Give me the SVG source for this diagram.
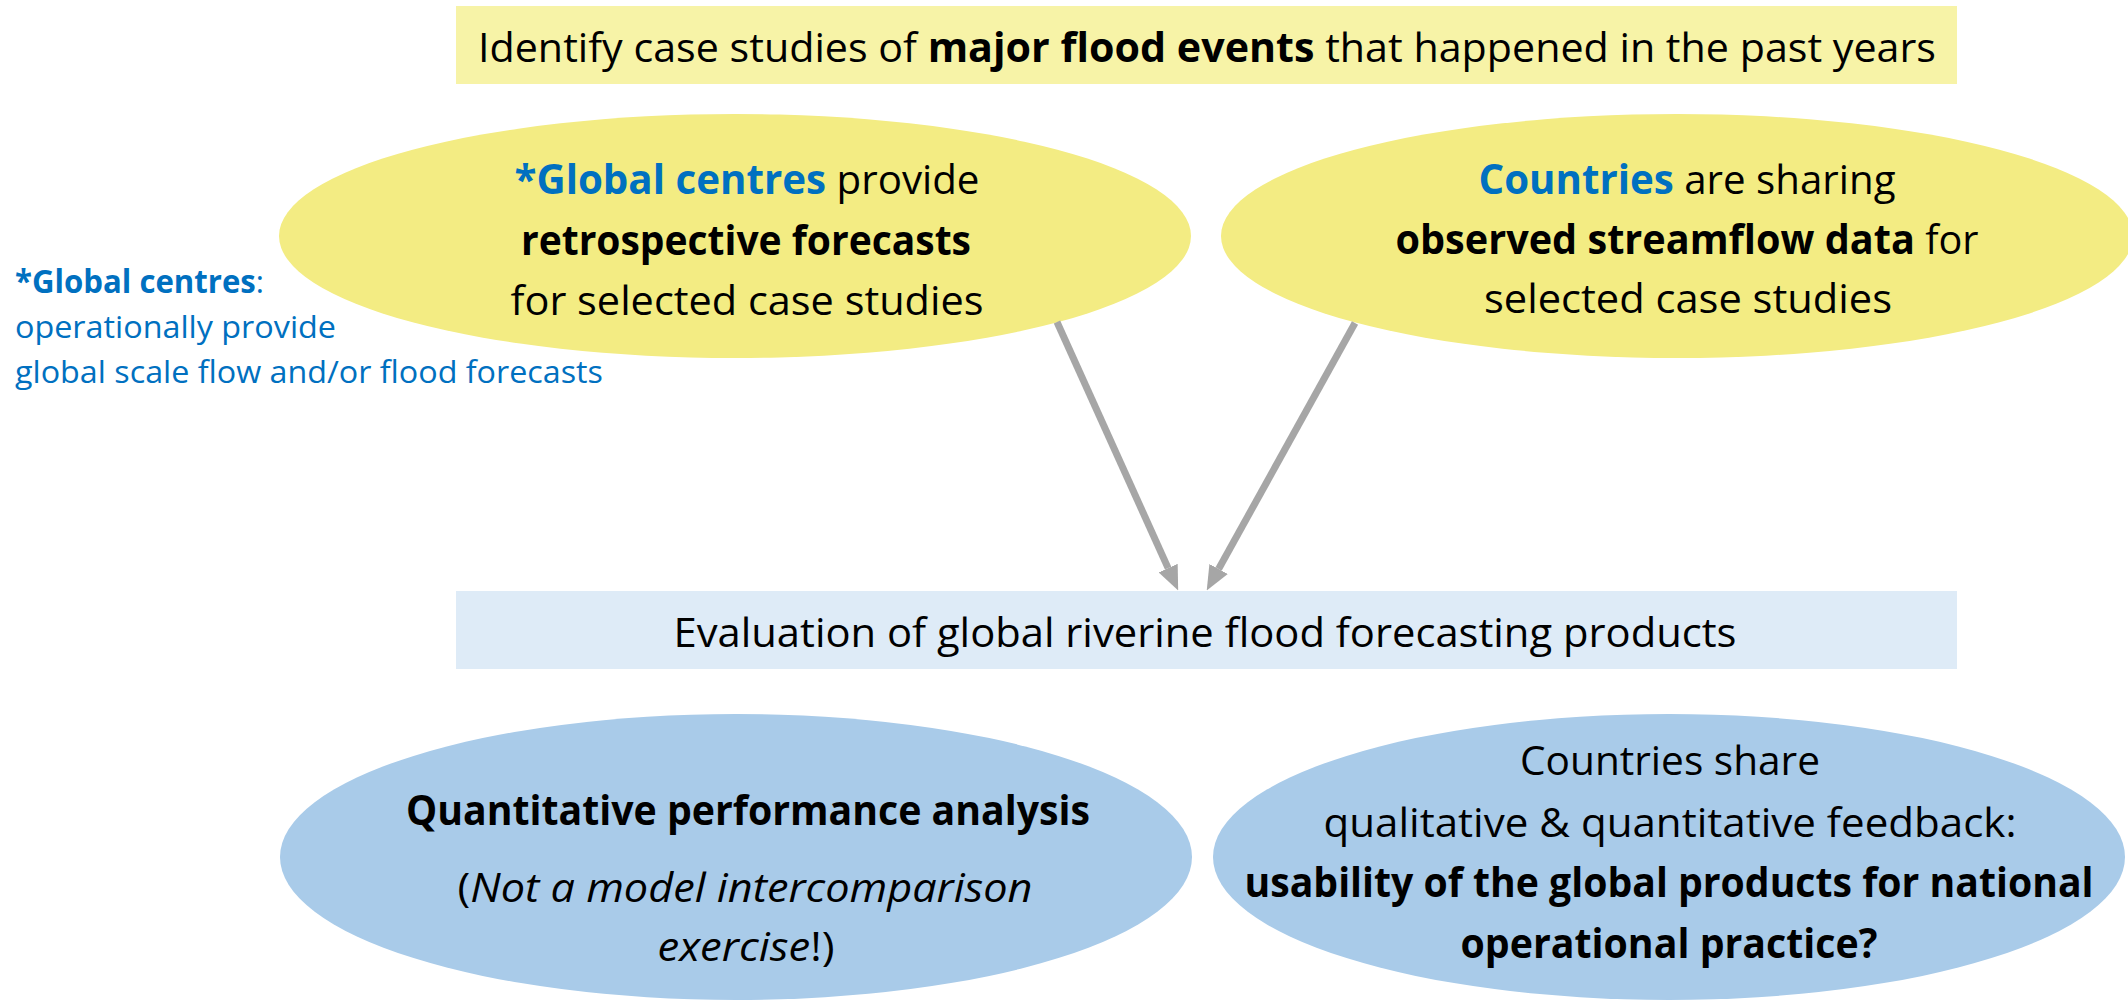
<svg xmlns="http://www.w3.org/2000/svg" width="2128" height="1000" viewBox="0 0 2128 1000">
<defs>
<style>
text{font-family:"Open Sans","Noto Sans","Liberation Sans",sans-serif;font-size:41px;fill:#000;}
.c{text-anchor:middle;}
.b{font-weight:bold;}
.i{font-style:italic;}
.blue{fill:#0070C0;}
.note{font-size:31.5px;fill:#0070C0;}
.ybox{fill:#F7F3A7;}
.yell{fill:#F3EC83;}
.bbox{fill:#DEEBF7;}
.bell{fill:#A9CBE9;}
.conn{stroke:#A6A6A6;stroke-width:7;fill:none;marker-end:url(#ah);}
</style>
<marker id="ah" viewBox="0 0 10 10" refX="0" refY="5" markerWidth="3.5" markerHeight="3" markerUnits="strokeWidth" orient="auto" preserveAspectRatio="none">
<path d="M0,0 L10,5 L0,10 z" fill="#A6A6A6"/>
</marker>
</defs>
<rect width="2128" height="1000" fill="#fff"/>

<g id="identify">
<rect class="ybox" x="456" y="6" width="1501" height="78"/>
<text class="c" x="1207" y="62" textLength="1458" lengthAdjust="spacingAndGlyphs">Identify case studies of <tspan class="b">major flood events</tspan> that happened in the past years</text>
</g>

<g id="global-centres">
<ellipse class="yell" cx="735" cy="236" rx="456" ry="122"/>
<text class="c" x="747" y="194" textLength="465" lengthAdjust="spacingAndGlyphs"><tspan class="b blue">*Global centres</tspan> provide</text>
<text class="c b" x="746" y="255" textLength="450" lengthAdjust="spacingAndGlyphs">retrospective forecasts</text>
<text class="c" x="747" y="315" textLength="473" lengthAdjust="spacingAndGlyphs">for selected case studies</text>
</g>

<g id="countries">
<ellipse class="yell" cx="1677" cy="236" rx="456" ry="122"/>
<text class="c" x="1687" y="194" textLength="417" lengthAdjust="spacingAndGlyphs"><tspan class="b blue">Countries</tspan> are sharing</text>
<text class="c" x="1687" y="254" textLength="583" lengthAdjust="spacingAndGlyphs"><tspan class="b">observed streamflow data</tspan> for</text>
<text class="c" x="1688" y="313" textLength="408" lengthAdjust="spacingAndGlyphs">selected case studies</text>
</g>

<g id="note">
<text class="note" x="15" y="293" textLength="249" lengthAdjust="spacingAndGlyphs"><tspan class="b">*Global centres</tspan>:</text>
<text class="note" x="15" y="338" textLength="321" lengthAdjust="spacingAndGlyphs">operationally provide</text>
<text class="note" x="15" y="383" textLength="588" lengthAdjust="spacingAndGlyphs">global scale flow and/or flood forecasts</text>
</g>

<g id="evaluation">
<rect class="bbox" x="456" y="591" width="1501" height="78"/>
<text class="c" x="1205" y="647" textLength="1063" lengthAdjust="spacingAndGlyphs">Evaluation of global riverine flood forecasting products</text>
</g>

<g id="quantitative">
<ellipse class="bell" cx="736" cy="857" rx="456" ry="143"/>
<text class="c b" x="748" y="825" textLength="684" lengthAdjust="spacingAndGlyphs">Quantitative performance analysis</text>
<text class="c" x="745" y="902" textLength="575" lengthAdjust="spacingAndGlyphs">(<tspan class="i">Not a model intercomparison</tspan></text>
<text class="c" x="746" y="961" textLength="177" lengthAdjust="spacingAndGlyphs"><tspan class="i">exercise</tspan>!)</text>
</g>

<g id="feedback">
<ellipse class="bell" cx="1669" cy="857" rx="456" ry="143"/>
<text class="c" x="1670" y="775" textLength="300" lengthAdjust="spacingAndGlyphs">Countries share</text>
<text class="c" x="1670" y="837" textLength="693" lengthAdjust="spacingAndGlyphs">qualitative &amp; quantitative feedback:</text>
<text class="c b" x="1669" y="897" textLength="849" lengthAdjust="spacingAndGlyphs">usability of the global products for national</text>
<text class="c b" x="1669" y="958" textLength="417" lengthAdjust="spacingAndGlyphs">operational practice?</text>
</g>

<g id="connectors">
<line class="conn" x1="1057" y1="322" x2="1168.1" y2="568.1"/>
<line class="conn" x1="1355" y1="323" x2="1218.6" y2="569.0"/>
</g>
</svg>
